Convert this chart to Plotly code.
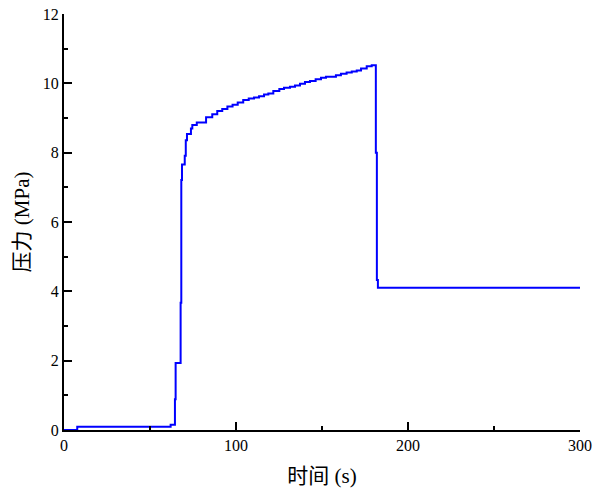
import plotly.graph_objects as go

time_s = [0, 7.7, 62, 64.5, 64.9, 67.8, 68.2, 68.6, 70.2, 70.8, 71.5, 73.8, 74.6, 77.2,
          82.6, 86.2, 89.1, 92, 95, 98, 101, 104.2, 107.4, 110.5, 113.4, 116.3, 118.8,
          121.7, 125.2, 127.9, 131.4, 134.3, 137.2, 140.1, 143, 146.3, 149.4, 152.3,
          158.1, 161, 164.3, 167.3, 170.2, 172.7, 176, 178.9, 181.3, 181.9, 182.5, 300]
pressure_mpa = [0, 0.095, 0.15, 0.89, 1.93, 3.67, 7.21, 7.66, 7.91, 8.36, 8.54, 8.70, 8.80, 8.87,
                9.02, 9.11, 9.20, 9.26, 9.33, 9.38, 9.45, 9.52, 9.56, 9.59, 9.63, 9.68, 9.71,
                9.78, 9.84, 9.87, 9.90, 9.94, 9.99, 10.04, 10.07, 10.12, 10.16, 10.19,
                10.23, 10.28, 10.31, 10.34, 10.37, 10.43, 10.49, 10.52, 8.0, 4.33, 4.10, 4.10]

x_ticks = [0, 100, 200, 300]
y_ticks = [0, 2, 4, 6, 8, 10, 12]

font_fam = "Liberation Serif, Noto Sans CJK SC, serif"

fig = go.Figure()
fig.add_trace(go.Scatter(x=time_s, y=pressure_mpa, mode="lines", line_shape="hv",
                         line=dict(color="#0000FF", width=2), showlegend=False))

axis_common = dict(showline=True, linecolor="black", linewidth=2, mirror=False,
                   showgrid=False, zeroline=False, ticks="inside", ticklen=8,
                   tickwidth=2, tickcolor="black", automargin=False,
                   ticklabeloverflow="allow",
                   tickfont=dict(family=font_fam, size=16, color="black"))

fig.update_xaxes(range=[0, 300], tickvals=x_ticks, ticktext=[str(v) for v in x_ticks],
                 minor=dict(ticks="inside", ticklen=4, tickwidth=2, tickcolor="black", dtick=50, tick0=0),
                 title=dict(text="时间 (s)", font=dict(family=font_fam, size=21, color="black"), standoff=15),
                 **axis_common)
fig.update_yaxes(range=[0, 12], tickvals=y_ticks, ticktext=[str(v) for v in y_ticks],
                 minor=dict(ticks="inside", ticklen=4, tickwidth=2, tickcolor="black", dtick=1, tick0=0),
                 title=dict(text="压力 (MPa)", font=dict(family=font_fam, size=21, color="black"), standoff=7),
                 **axis_common)

fig.update_layout(width=610, height=496, margin=dict(l=64, r=30, t=14, b=66),
                  plot_bgcolor="white", paper_bgcolor="white")

fig.write_html("out.html", config={"displayModeBar": False},
               post_script="document.body.style.margin='0';")
